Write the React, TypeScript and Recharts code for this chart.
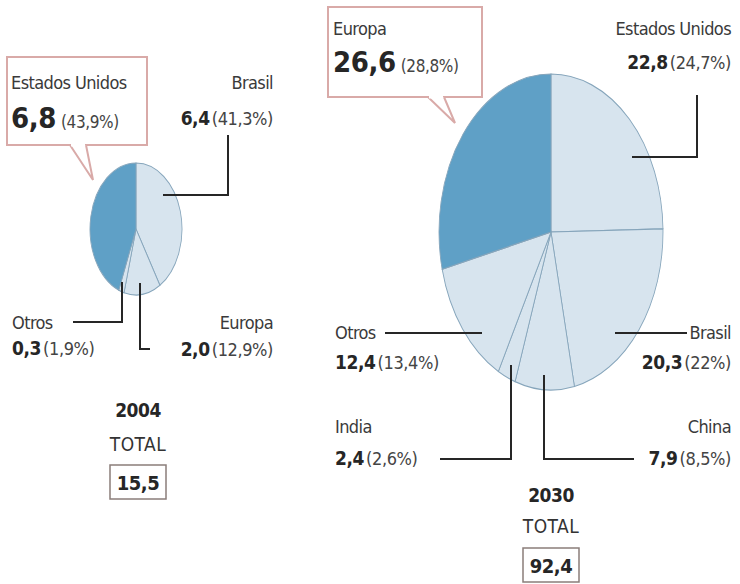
import React from 'react';
import { PieChart, Pie, Cell } from 'recharts';

// ---------- DATA ----------
const names2004 = ['Brasil', 'Europa', 'Otros', 'Estados Unidos'];
const values2004 = [6.4, 2.0, 0.3, 6.8];
const pct2004 = [41.3, 12.9, 1.9, 43.9];
const total2004 = 15.5;
const highlight2004 = 'Estados Unidos';

const names2030 = ['Estados Unidos', 'Brasil', 'China', 'India', 'Otros', 'Europa'];
const values2030 = [22.8, 20.3, 7.9, 2.4, 12.4, 26.6];
const pct2030 = [24.7, 22, 8.5, 2.6, 13.4, 28.8];
const total2030 = 92.4;
const highlight2030 = 'Europa';

const years = ['2004', '2030'];
const totalLabel = 'TOTAL';

// ---------- STYLE ----------
const FONT = '"DejaVu Sans Condensed", "Liberation Sans Narrow", "Open Sans", sans-serif';
const DARK = '#5fa0c6';
const LIGHT = '#d7e4ee';
const EDGE = '#86a5bb';
const INK = '#262626';
const BOXC = '#d9aaa8';

const fmtVal = (n: number) => n.toFixed(1).replace('.', ',');
const fmtPct = (n: number) => (Number.isInteger(n) ? String(n) : n.toFixed(1).replace('.', ',')) + '%';

const build = (names: string[], values: number[], pct: number[]) =>
  names.map((name, i) => ({ name, value: values[i], pct: pct[i] }));

const data2004 = build(names2004, values2004, pct2004);
const data2030 = build(names2030, values2030, pct2030);

// layout of annotations (positions only)
type Ann = {
  x: number; yName: number; yVal: number; anchor: 'start' | 'end';
  line?: number[][]; box?: number[]; pointer?: number[][];
};
const layout2004: Record<string, Ann> = {
  'Estados Unidos': { x: 11, yName: 89, yVal: 128, anchor: 'start', box: [7, 57, 140, 88], pointer: [[70, 145], [93, 180], [86, 145]] },
  Brasil: { x: 273, yName: 89, yVal: 125, anchor: 'end', line: [[228, 135], [228, 195], [163, 195]] },
  Otros: { x: 12, yName: 329, yVal: 355, anchor: 'start', line: [[73, 322], [122, 322], [122, 282]] },
  Europa: { x: 273, yName: 329, yVal: 356, anchor: 'end', line: [[140, 283], [140, 349], [150, 349]] },
};
const layout2030: Record<string, Ann> = {
  Europa: { x: 333, yName: 35, yVal: 72, anchor: 'start', box: [328, 7, 154, 90], pointer: [[428, 97], [455, 123], [444, 97]] },
  'Estados Unidos': { x: 731, yName: 35, yVal: 69, anchor: 'end', line: [[697, 95], [697, 157], [632, 157]] },
  Brasil: { x: 731, yName: 339, yVal: 369, anchor: 'end', line: [[687, 333], [615, 333]] },
  Otros: { x: 335, yName: 339, yVal: 369, anchor: 'start', line: [[385, 333], [482, 333]] },
  India: { x: 335, yName: 433, yVal: 465, anchor: 'start', line: [[440, 459], [511, 459], [511, 365]] },
  China: { x: 731, yName: 433, yVal: 465, anchor: 'end', line: [[634, 459], [544, 459], [544, 375]] },
};

function EllipsePie({ data, highlight, cx, cy, rx, ry }: any) {
  const size = Math.ceil(ry * 2) + 6;
  return (
    <div
      style={{
        position: 'absolute',
        left: cx - size / 2,
        top: cy - size / 2,
        width: size,
        height: size,
        transform: `scaleX(${rx / ry})`,
        transformOrigin: '50% 50%',
      }}
    >
      <PieChart width={size} height={size} margin={{ top: 0, right: 0, bottom: 0, left: 0 }}>
        <Pie
          data={data}
          dataKey="value"
          nameKey="name"
          cx="50%"
          cy="50%"
          innerRadius={0}
          outerRadius={ry}
          startAngle={90}
          endAngle={-270}
          stroke={EDGE}
          strokeWidth={1.2}
          isAnimationActive={false}
        >
          {data.map((d: any, i: number) => (
            <Cell key={i} fill={d.name === highlight ? DARK : LIGHT} />
          ))}
        </Pie>
      </PieChart>
    </div>
  );
}

function Annotations({ data, layout }: { data: any[]; layout: Record<string, Ann> }) {
  return (
    <g>
      {data.map((d) => {
        const a = layout[d.name];
        if (!a) return null;
        const boxed = !!a.box;
        return (
          <g key={d.name}>
            {a.box && (
              <g>
                <rect x={a.box[0]} y={a.box[1]} width={a.box[2]} height={a.box[3]} fill="#fff" stroke={BOXC} strokeWidth={2} />
                <polyline
                  points={a.pointer!.map((p) => p.join(',')).join(' ')}
                  fill="#fff"
                  stroke={BOXC}
                  strokeWidth={2}
                />
                <line x1={a.pointer![0][0] + 1} y1={a.box[1] + a.box[3]} x2={a.pointer![2][0] - 1} y2={a.box[1] + a.box[3]} stroke="#fff" strokeWidth={3} />
              </g>
            )}
            {a.line && (
              <polyline points={a.line.map((p) => p.join(',')).join(' ')} fill="none" stroke={INK} strokeWidth={2} />
            )}
            <text x={a.x} y={a.yName} textAnchor={a.anchor} fontSize={18} fill="#3a3a3a" style={{ letterSpacing: -0.6 }}>
              {d.name}
            </text>
            <text x={a.x} y={a.yVal} textAnchor={a.anchor} fill={INK} style={{ letterSpacing: -0.4 }}>
              <tspan fontWeight="bold" fontSize={boxed ? 29 : 19}>{fmtVal(d.value)}</tspan>
              <tspan fontSize={boxed ? 17 : 18} fill="#444" dx={boxed ? 5 : 2}>({fmtPct(d.pct)})</tspan>
            </text>
          </g>
        );
      })}
    </g>
  );
}

function Total({ year, total, cx, yYear, yTotal, boxY, boxW }: any) {
  return (
    <g>
      <text x={cx} y={yYear} textAnchor="middle" fontWeight="bold" fontSize={19} fill={INK} style={{ letterSpacing: -0.5 }}>{year}</text>
      <text x={cx} y={yTotal} textAnchor="middle" fontSize={19} fill="#333" style={{ letterSpacing: 0.5 }}>{totalLabel}</text>
      <rect x={cx - boxW / 2} y={boxY} width={boxW} height={34} fill="#fff" stroke="#8a7d7a" strokeWidth={1.5} />
      <text x={cx} y={boxY + 25} textAnchor="middle" fontWeight="bold" fontSize={20} fill={INK} style={{ letterSpacing: -0.5 }}>{fmtVal(total)}</text>
    </g>
  );
}

export default function App() {
  return (
    <div style={{ position: 'absolute', left: 0, top: 0, width: 740, height: 584, background: '#fff', fontFamily: FONT, overflow: 'hidden' }}>
      <EllipsePie data={data2004} highlight={highlight2004} cx={136} cy={229} rx={46} ry={66} />
      <EllipsePie data={data2030} highlight={highlight2030} cx={551} cy={232} rx={112} ry={158} />
      <svg width={740} height={584} style={{ position: 'absolute', left: 0, top: 0, fontFamily: FONT, pointerEvents: 'none' }}>
        <Annotations data={data2004} layout={layout2004} />
        <Annotations data={data2030} layout={layout2030} />
        <Total year={years[0]} total={total2004} cx={138} yYear={417} yTotal={451} boxY={465} boxW={56} />
        <Total year={years[1]} total={total2030} cx={551} yYear={502} yTotal={533} boxY={548} boxW={56} />
      </svg>
    </div>
  );
}
